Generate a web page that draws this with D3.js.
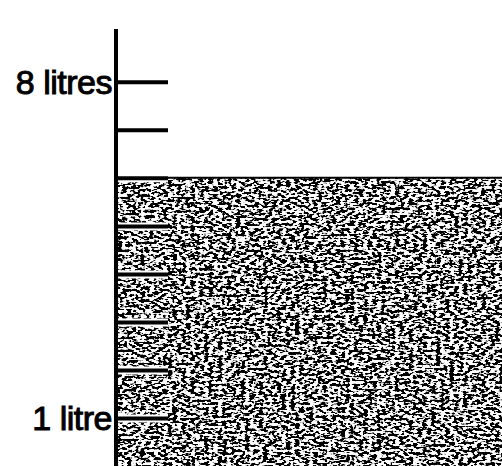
<!DOCTYPE html>
<html>
<head>
<meta charset="utf-8">
<script src="https://cdn.jsdelivr.net/npm/d3@7"></script>
<style>
  html, body { margin: 0; padding: 0; background: #fff; }
  svg { display: block; }
</style>
</head>
<body>
<svg id="chart"></svg>
<script>
// scale marks in litres, and which ones get a label
const litres = [1, 2, 3, 4, 5, 6, 7, 8];
const tickLabels = { 1: "1 litre", 8: "8 litres" };
const waterLevel = [6];

const width = 502;
const height = 466;
const axisX = 116;
const tickLen = 52;

const svg = d3.select("#chart")
    .attr("width", width)
    .attr("height", height);

const y = d3.scaleLinear()
    .domain([0, 9.1])
    .range([height, 29]);

// grainy scan-like texture for the water
const defs = svg.append("defs");
const f = defs.append("filter")
    .attr("id", "grain")
    .attr("x", 0).attr("y", 0).attr("width", 1).attr("height", 1);
f.append("feTurbulence")
    .attr("type", "fractalNoise")
    .attr("baseFrequency", "0.22 0.38")
    .attr("numOctaves", 2)
    .attr("seed", 3)
    .attr("result", "noise");
f.append("feColorMatrix")
    .attr("in", "noise")
    .attr("type", "matrix")
    .attr("values", "0 0 0 0 0  0 0 0 0 0  0 0 0 0 0  0 -14 0 0 7.6")
    .attr("result", "dots");
f.append("feFlood").attr("flood-color", "#fff").attr("result", "white");
f.append("feComposite").attr("in", "dots").attr("in2", "white").attr("operator", "over");

svg.selectAll(".water")
    .data(waterLevel)
    .enter()
    .append("rect")
    .attr("class", "water")
    .attr("x", axisX)
    .attr("y", d => y(d))
    .attr("width", width - axisX)
    .attr("height", d => y(0) - y(d))
    .attr("filter", "url(#grain)");

svg.selectAll(".surface")
    .data(waterLevel)
    .enter()
    .append("line")
    .attr("class", "surface")
    .attr("x1", axisX).attr("x2", width)
    .attr("y1", d => y(d)).attr("y2", d => y(d))
    .attr("stroke", "#000")
    .attr("stroke-width", 2);

// white halo behind ticks so they read on the water
const axis = d3.axisRight(y)
    .tickValues(litres)
    .tickSize(tickLen)
    .tickFormat("");

svg.append("g")
    .attr("transform", `translate(${axisX},0)`)
    .call(axis)
    .call(g => g.select(".domain").remove())
    .call(g => g.selectAll(".tick line")
        .attr("stroke", "#fff").attr("stroke-width", 8));

svg.append("g")
    .attr("transform", `translate(${axisX},0)`)
    .call(axis)
    .call(g => g.select(".domain").remove())
    .call(g => g.selectAll(".tick line")
        .attr("stroke", "#000").attr("stroke-width", 4));

svg.append("line")
    .attr("x1", axisX).attr("x2", axisX)
    .attr("y1", y.range()[1]).attr("y2", y.range()[0])
    .attr("stroke", "#000")
    .attr("stroke-width", 4);

svg.selectAll(".label")
    .data(litres.filter(d => tickLabels[d]))
    .enter()
    .append("text")
    .attr("class", "label")
    .attr("x", axisX - 4)
    .attr("y", d => y(d))
    .attr("dy", "0.36em")
    .attr("text-anchor", "end")
    .attr("font-family", "Liberation Sans, Arial, sans-serif")
    .attr("font-size", 34)
    .attr("letter-spacing", -0.5)
    .attr("fill", "#000")
    .attr("stroke", "#000")
    .attr("stroke-width", 1)
    .text(d => tickLabels[d]);
</script>
</body>
</html>
